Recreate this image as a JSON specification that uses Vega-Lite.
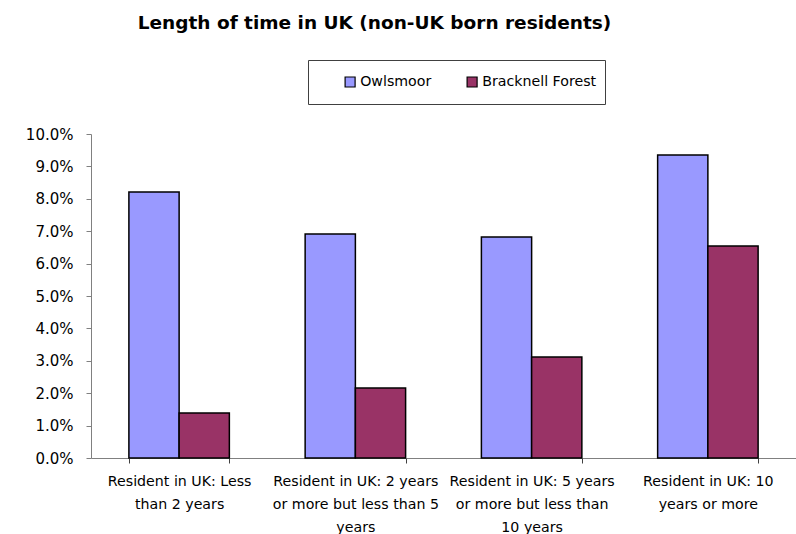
{
  "$schema": "https://vega.github.io/schema/vega-lite/v6.json",
  "width": 705,
  "height": 324,
  "autosize": {"type": "none"},
  "padding": {"left": 91, "top": 134, "right": 0, "bottom": 76},
  "background": "white",
  "title": {
    "text": "Length of time in UK (non-UK born residents)",
    "font": "DejaVu Sans",
    "fontSize": 18.5,
    "fontWeight": "bold",
    "color": "#000000",
    "anchor": "middle",
    "dx": -69,
    "offset": 27
  },
  "config": {
    "view": {"stroke": null},
    "font": "DejaVu Sans"
  },
  "data": {
    "values": [
      {"category": "Resident in UK: Less than 2 years", "series": "Owlsmoor", "value": 0.0821},
      {"category": "Resident in UK: Less than 2 years", "series": "Bracknell Forest", "value": 0.0139},
      {"category": "Resident in UK: 2 years or more but less than 5 years", "series": "Owlsmoor", "value": 0.0691},
      {"category": "Resident in UK: 2 years or more but less than 5 years", "series": "Bracknell Forest", "value": 0.0216},
      {"category": "Resident in UK: 5 years or more but less than 10 years", "series": "Owlsmoor", "value": 0.0682},
      {"category": "Resident in UK: 5 years or more but less than 10 years", "series": "Bracknell Forest", "value": 0.0312},
      {"category": "Resident in UK: 10 years or more", "series": "Owlsmoor", "value": 0.0935},
      {"category": "Resident in UK: 10 years or more", "series": "Bracknell Forest", "value": 0.0654}
    ]
  },
  "mark": {"type": "bar", "stroke": "#000000", "strokeWidth": 1.5},
  "encoding": {
    "x": {
      "field": "category",
      "type": "nominal",
      "sort": null,
      "title": null,
      "scale": {"paddingInner": 0.43, "paddingOuter": 0.215},
      "axis": {
        "labelAngle": 0,
        "labelFont": "DejaVu Sans",
        "labelFontSize": 14.2,
        "labelColor": "#000000",
        "labelLineHeight": 23,
        "labelPadding": 11,
        "labelBaseline": "top",
        "labelLimit": 300,
        "domainColor": "#808080",
        "tickColor": "#404040",
        "tickSize": 5,
        "tickBand": "extent",
        "labelExpr": "datum.value == 'Resident in UK: Less than 2 years' ? ['Resident in UK: Less', 'than 2 years'] : datum.value == 'Resident in UK: 2 years or more but less than 5 years' ? ['Resident in UK: 2 years', 'or more but less than 5', 'years'] : datum.value == 'Resident in UK: 5 years or more but less than 10 years' ? ['Resident in UK: 5 years', 'or more but less than', '10 years'] : datum.value == 'Resident in UK: 10 years or more' ? ['Resident in UK: 10', 'years or more'] : ''"
      }
    },
    "xOffset": {
      "field": "series",
      "type": "nominal",
      "sort": ["Owlsmoor", "Bracknell Forest"],
      "scale": {"paddingInner": 0, "paddingOuter": 0}
    },
    "y": {
      "field": "value",
      "type": "quantitative",
      "title": null,
      "scale": {"domain": [0, 0.1], "nice": false},
      "axis": {
        "format": ".1%",
        "values": [0, 0.01, 0.02, 0.03, 0.04, 0.05, 0.06, 0.07, 0.08, 0.09, 0.1],
        "grid": false,
        "labelFont": "DejaVu Sans",
        "labelFontSize": 15,
        "labelColor": "#000000",
        "labelPadding": 13,
        "domainColor": "#808080",
        "tickColor": "#808080",
        "tickSize": 5
      }
    },
    "color": {
      "field": "series",
      "type": "nominal",
      "sort": ["Owlsmoor", "Bracknell Forest"],
      "scale": {"domain": ["Owlsmoor", "Bracknell Forest"], "range": ["#9999FF", "#993366"]},
      "legend": {
        "title": null,
        "orient": "none",
        "legendX": 217,
        "legendY": -74,
        "direction": "horizontal",
        "symbolType": "square",
        "symbolSize": 100,
        "symbolStrokeColor": "#000000",
        "symbolStrokeWidth": 1.2,
        "labelFont": "DejaVu Sans",
        "labelFontSize": 14.2,
        "labelColor": "#000000",
        "columnPadding": 6,
        "symbolOffset": 27,
        "labelOffset": 3,
        "clipHeight": 28,
        "strokeColor": "#404040",
        "padding": 8,
        "offset": 0
      }
    }
  }
}
